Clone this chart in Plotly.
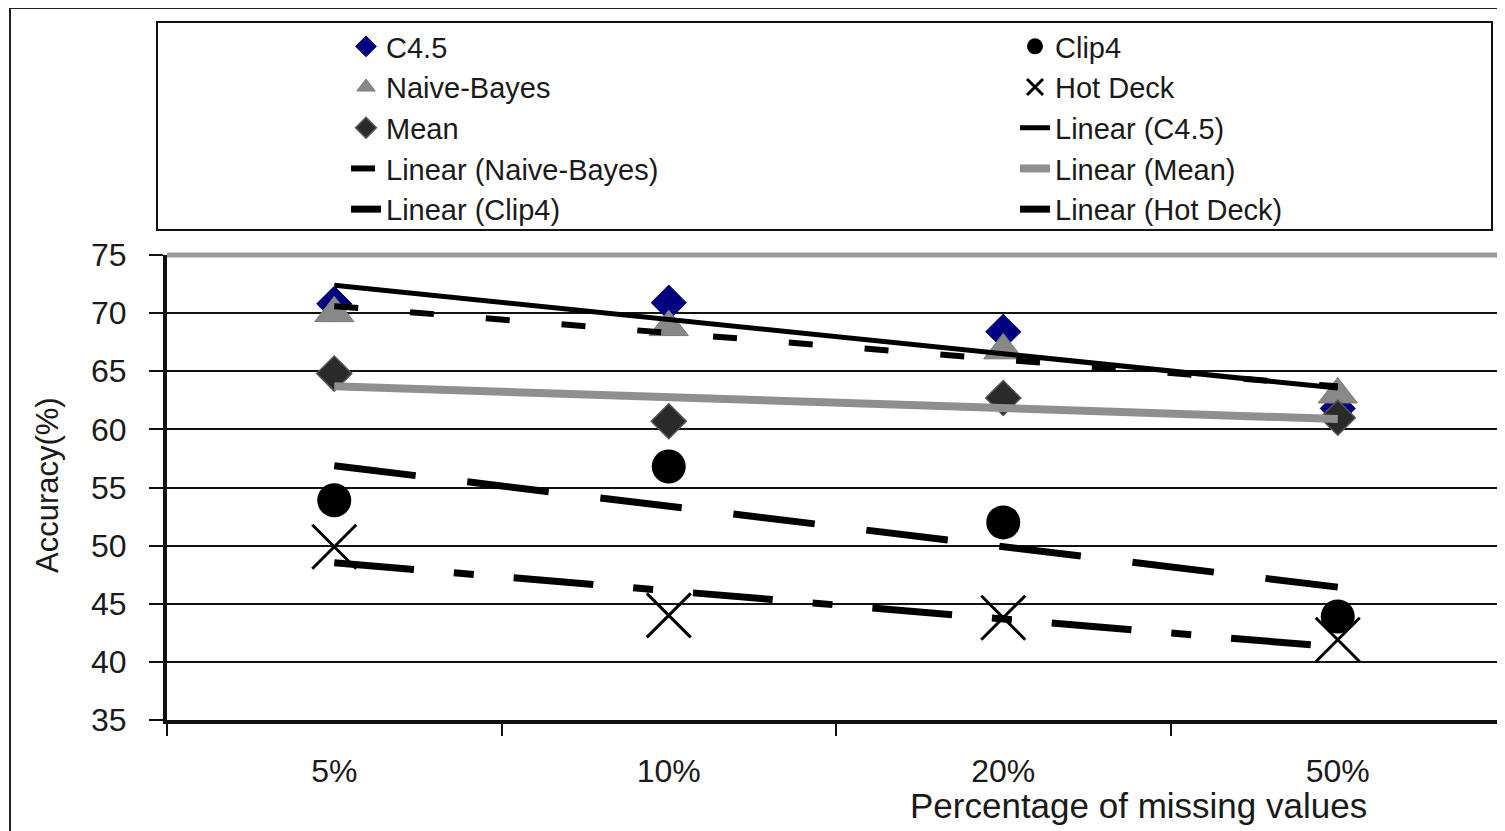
import numpy as np
import plotly.graph_objects as go

# ---------------- data ----------------
categories = ["5%", "10%", "20%", "50%"]
c45 = [70.8, 70.9, 68.4, 61.8]
naive_bayes = [70.0, 68.8, 66.8, 63.0]
mean_imp = [64.8, 60.7, 62.7, 61.0]
clip4 = [53.9, 56.8, 52.0, 43.9]
hot_deck = [49.9, 44.0, 43.8, 41.9]
y_ticks = [35, 40, 45, 50, 55, 60, 65, 70, 75]

# ---------------- geometry helpers (screen pixel -> paper) ----------------
OFF = 8                      # page body margin
W, H = 1505 - OFF, 831 - OFF
SL, SR, ST, SB = 167, 1505, 255, 720   # plot area in screen pixels
PL, PR, PT, PB = SL - OFF, SR - OFF, ST - OFF, SB - OFF


def px(x):
    return (x - OFF - PL) / (PR - PL)


def py(y):
    return (PB - (y - OFF)) / (PB - PT)


FONT = "Liberation Sans, Arial, sans-serif"
TXT = "#1a1a1a"

fig = go.Figure()

# ---------------- marker series ----------------
fig.add_trace(go.Scatter(
    x=categories, y=c45, mode="markers", name="C4.5", legendrank=1,
    marker=dict(symbol="diamond", size=27, color="#000080",
                line=dict(color="#000060", width=1))))
fig.add_trace(go.Scatter(
    x=categories, y=naive_bayes, mode="markers", name="Naive-Bayes", legendrank=3,
    marker=dict(symbol="triangle-up", size=34, color="#888888",
                line=dict(color="#7a7a7a", width=1))))
fig.add_trace(go.Scatter(
    x=categories, y=mean_imp, mode="markers", name="Mean", legendrank=5,
    marker=dict(symbol="diamond", size=27, color="#2a2a2a",
                line=dict(color="#555555", width=1.5))))
fig.add_trace(go.Scatter(
    x=categories, y=clip4, mode="markers", name="Clip4", legendrank=2,
    marker=dict(symbol="circle", size=34, color="#000000")))
fig.add_trace(go.Scatter(
    x=categories, y=hot_deck, mode="markers", name="Hot Deck", legendrank=4,
    marker=dict(symbol="x-thin-open", size=44, color="#000000",
                line=dict(color="#000000", width=3))))

# ---------------- linear trend lines (least squares over category index) ----------------
idx = np.arange(len(categories))


def trend(vals):
    slope, intercept = np.polyfit(idx, np.asarray(vals, dtype=float), 1)
    return [intercept + slope * idx[0], intercept + slope * idx[-1]]


ends = [categories[0], categories[-1]]
fig.add_trace(go.Scatter(
    x=ends, y=trend(c45), mode="lines", name="Linear (C4.5)", legendrank=6,
    line=dict(color="#000000", width=5)))
fig.add_trace(go.Scatter(
    x=ends, y=trend(naive_bayes), mode="lines", name="Linear (Naive-Bayes)", legendrank=7,
    line=dict(color="#000000", width=6, dash="24px,52px")))
fig.add_trace(go.Scatter(
    x=ends, y=trend(mean_imp), mode="lines", name="Linear (Mean)", legendrank=8,
    line=dict(color="#8f8f8f", width=8)))
fig.add_trace(go.Scatter(
    x=ends, y=trend(clip4), mode="lines", name="Linear (Clip4)", legendrank=9,
    line=dict(color="#000000", width=7, dash="82px,52px")))
fig.add_trace(go.Scatter(
    x=ends, y=trend(hot_deck), mode="lines", name="Linear (Hot Deck)", legendrank=10,
    line=dict(color="#000000", width=7, dash="80px,40px,20px,40px")))

# ---------------- layout ----------------
fig.update_layout(
    width=W, height=H,
    margin=dict(l=PL, r=W - PR, t=PT, b=H - PB, autoexpand=False),
    paper_bgcolor="white", plot_bgcolor="white",
    font=dict(family=FONT, color=TXT),
    showlegend=True,
    legend=dict(
        orientation="h", x=px(346), xanchor="left", y=py(21), yanchor="top",
        entrywidth=0.5, entrywidthmode="fraction",
        font=dict(family=FONT, size=29, color=TXT),
        bgcolor="rgba(0,0,0,0)", borderwidth=0, traceorder="normal"),
    xaxis=dict(
        type="category", categoryorder="array", categoryarray=categories,
        range=[-0.5, len(categories) - 0.5],
        tickson="boundaries", ticks="outside", ticklen=12, tickwidth=2, tickcolor="#111",
        showline=True, linecolor="#111", linewidth=4, mirror=False,
        showgrid=False, zeroline=False,
        tickfont=dict(family=FONT, size=32, color=TXT), ticklabelstandoff=20),
    yaxis=dict(
        range=[35, 75], tickvals=y_ticks, ticks="outside", ticklen=14, tickwidth=2,
        tickcolor="#111", showline=True, linecolor="#111", linewidth=4, mirror=False,
        showgrid=True, gridcolor="#111", gridwidth=1.5, zeroline=False,
        tickfont=dict(family=FONT, size=32, color=TXT), ticklabelstandoff=16),
    shapes=[
        # grey top frame of plot area
        dict(type="line", xref="paper", yref="paper", x0=0, x1=1, y0=1, y1=1,
             line=dict(color="#9a9a9a", width=5), layer="above"),
        # outer chart border
        dict(type="rect", xref="paper", yref="paper",
             x0=px(10), x1=px(1512), y0=py(845), y1=py(8),
             line=dict(color="#222", width=2), layer="above"),
        # legend box
        dict(type="rect", xref="paper", yref="paper",
             x0=px(157), x1=px(1492), y0=py(230), y1=py(22),
             line=dict(color="#111", width=2), layer="above"),
    ],
    annotations=[
        dict(text="Accuracy(%)", xref="paper", yref="paper", x=px(47), y=py(485),
             textangle=-90, showarrow=False, xanchor="center", yanchor="middle",
             font=dict(family=FONT, size=31, color=TXT)),
        dict(text="Percentage of missing values", xref="paper", yref="paper",
             x=px(1138), y=py(805), showarrow=False, xanchor="center", yanchor="middle",
             font=dict(family=FONT, size=35, color=TXT)),
    ],
)

fig.write_html("out.html")
